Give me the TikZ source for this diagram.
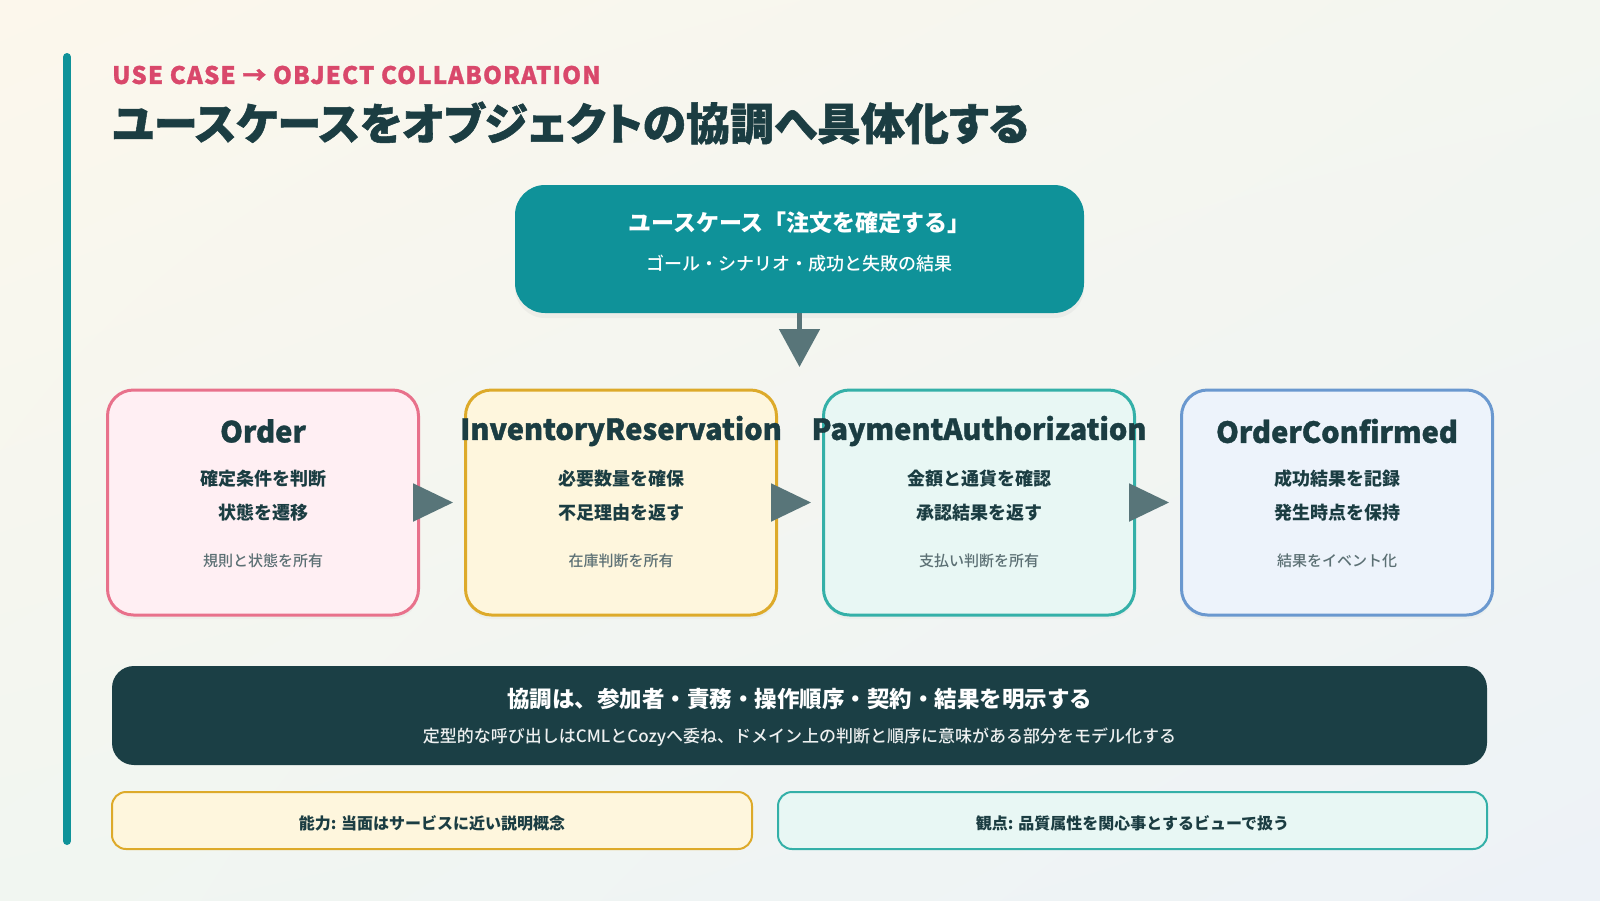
\documentclass[tikz,border=0pt]{standalone}
\usepackage{fontspec}
\setmainfont{Noto Sans CJK JP}
\newfontfamily\heavyfont{Noto Sans CJK JP Black}[FakeBold=1.2]
\newfontfamily\medfont{Noto Sans CJK JP Medium}
\usetikzlibrary{arrows.meta,shadows,shadings}

\definecolor{ink}{HTML}{1B3D42}
\definecolor{ucteal}{HTML}{0F9299}
\definecolor{flowgray}{HTML}{587579}
\definecolor{kicker}{HTML}{D9486B}
\definecolor{notegray}{HTML}{5C7074}
\definecolor{bannerbg}{HTML}{1B3F45}
\definecolor{pinkfill}{HTML}{FFEFF3}
\definecolor{pinkline}{HTML}{E8718B}
\definecolor{goldfill}{HTML}{FEF6DD}
\definecolor{goldline}{HTML}{DDAA2A}
\definecolor{mintfill}{HTML}{E8F7F4}
\definecolor{mintline}{HTML}{34B0A8}
\definecolor{bluefill}{HTML}{EDF3FB}
\definecolor{blueline}{HTML}{6A98CF}
\definecolor{bgA}{HTML}{FCF7EC}
\definecolor{bgB}{HTML}{F3F6F0}
\definecolor{bgC}{HTML}{F1F6F1}
\definecolor{bgD}{HTML}{EDF2F7}
\newcommand\setsz[1]{\fontsize{#1}{#1}\selectfont}

\begin{document}
\begin{tikzpicture}[x=1pt,y=-1pt,node distance=358pt,
  obj/.style={draw,line width=3pt,rounded corners=26pt,minimum width=311pt,minimum height=225pt,
    drop shadow={opacity=0.05,shadow xshift=0pt,shadow yshift=-4pt}},
  objname/.style={text=ink,font=\setsz{29}\heavyfont,inner sep=0pt},
  objline/.style={text=ink,font=\setsz{18}\bfseries,inner sep=0pt},
  objnote/.style={text=notegray,font=\setsz{15}\medfont,inner sep=0pt},
  flow/.style={-{Triangle[length=40pt,width=38pt]},flowgray,line width=2pt,shorten >=11pt},
  tag/.style={draw,line width=2pt,rounded corners=14pt,minimum height=57pt},
  tagtext/.style={text=ink,font=\setsz{16}\bfseries,inner sep=0pt}]

  % background and side bar
  \shade[upper left=bgA,upper right=bgB,lower left=bgC,lower right=bgD] (0,0) rectangle (1600,900);
  \draw[ucteal,line width=8pt,line cap=round] (67,57) -- (67,841);

  % heading
  \node[anchor=west,inner sep=0pt,text=kicker,font=\setsz{24}\heavyfont\addfontfeature{LetterSpace=5}] (kick) at (112,75) {USE CASE → OBJECT COLLABORATION};
  \node[anchor=west,inner sep=0pt,text=ink,font=\setsz{44}\heavyfont\addfontfeature{RawFeature=+palt}] (title) at (112,123) {ユースケースをオブジェクトの協調へ具体化する};

  % use case
  \node[fill=ucteal,rounded corners=30pt,minimum width=569pt,minimum height=128pt,
    drop shadow={opacity=0.07,shadow xshift=0pt,shadow yshift=-5pt}] (uc) at (799.5,249) {};
  \node[text=white,font=\setsz{23}\bfseries,inner sep=0pt] (uc-t) at (799.5,223) {ユースケース「注文を確定する」};
  \node[text=white,font=\setsz{18}\medfont,inner sep=0pt] (uc-s) at (799.5,264) {ゴール・シナリオ・成功と失敗の結果};
  \coordinate (ucend) at (799.5,367);

  % objects
  \node[obj,draw=pinkline,fill=pinkfill] (ord) at (263,502.5) {};
  \node[obj,draw=goldline,fill=goldfill] (inv) [right of=ord] {};
  \node[obj,draw=mintline,fill=mintfill] (pay) [right of=inv] {};
  \node[obj,draw=blueline,fill=bluefill] (conf) [right of=pay] {};

  \node[objname] (ord-t) at ([yshift=71.5pt]ord.center) {Order};
  \node[objline] (ord-a) at ([yshift=23.5pt]ord.center) {確定条件を判断};
  \node[objline] (ord-b) at ([yshift=-10.5pt]ord.center) {状態を遷移};
  \node[objnote] (ord-c) at ([yshift=-58.5pt]ord.center) {規則と状態を所有};

  \node[objname] (inv-t) at ([yshift=71.5pt]inv.center) {InventoryReservation};
  \node[objline] (inv-a) at ([yshift=23.5pt]inv.center) {必要数量を確保};
  \node[objline] (inv-b) at ([yshift=-10.5pt]inv.center) {不足理由を返す};
  \node[objnote] (inv-c) at ([yshift=-58.5pt]inv.center) {在庫判断を所有};

  \node[objname] (pay-t) at ([yshift=71.5pt]pay.center) {PaymentAuthorization};
  \node[objline] (pay-a) at ([yshift=23.5pt]pay.center) {金額と通貨を確認};
  \node[objline] (pay-b) at ([yshift=-10.5pt]pay.center) {承認結果を返す};
  \node[objnote] (pay-c) at ([yshift=-58.5pt]pay.center) {支払い判断を所有};

  \node[objname] (conf-t) at ([yshift=71.5pt]conf.center) {OrderConfirmed};
  \node[objline] (conf-a) at ([yshift=23.5pt]conf.center) {成功結果を記録};
  \node[objline] (conf-b) at ([yshift=-10.5pt]conf.center) {発生時点を保持};
  \node[objnote] (conf-c) at ([yshift=-58.5pt]conf.center) {結果をイベント化};

  % flow
  \draw[-{Triangle[length=38pt,width=40pt]},flowgray,line width=5pt] (uc.south) -- (ucend);
  \draw[flow] (ord.east) -- (inv.west);
  \draw[flow] (inv.east) -- (pay.west);
  \draw[flow] (pay.east) -- (conf.west);

  % summary
  \node[fill=bannerbg,rounded corners=22pt,minimum width=1375pt,minimum height=99pt] (sum) at (799.5,715.5) {};
  \node[text=white,font=\setsz{22.5}\bfseries,inner sep=0pt] (sum-t) at (799.5,699) {協調は、参加者・責務・操作順序・契約・結果を明示する};
  \node[text=white!92!bannerbg,font=\setsz{17}\medfont,inner sep=0pt] (sum-s) at (799.5,737) {定型的な呼び出しはCMLとCozyへ委ね、ドメイン上の判断と順序に意味がある部分をモデル化する};

  \node[tag,draw=goldline,fill=goldfill,minimum width=640pt] (cap) at (432,820.5) {};
  \node[tagtext] (cap-t) at ([yshift=-3pt]cap.center) {能力: 当面はサービスに近い説明概念};
  \node[tag,draw=mintline,fill=mintfill,minimum width=709pt] (view) at (1132.5,820.5) {};
  \node[tagtext] (view-t) at ([yshift=-3pt]view.center) {観点: 品質属性を関心事とするビューで扱う};
\end{tikzpicture}
\end{document}
